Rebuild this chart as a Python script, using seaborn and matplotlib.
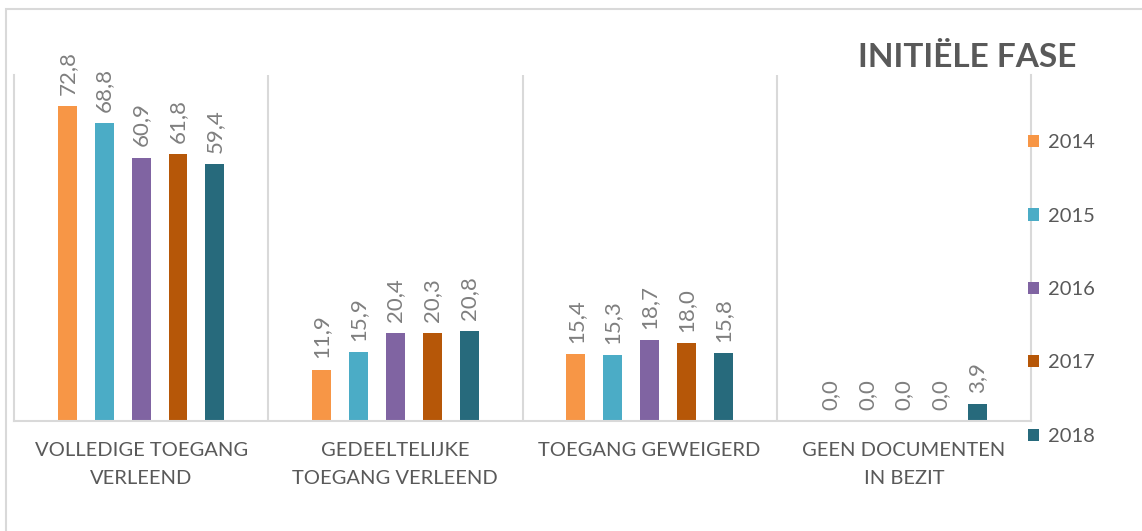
import pandas as pd
import matplotlib.pyplot as plt
import seaborn as sns
from matplotlib.patches import Rectangle

# Data
categories = ["VOLLEDIGE TOEGANG\nVERLEEND", "GEDEELTELIJKE\nTOEGANG VERLEEND",
              "TOEGANG GEWEIGERD", "GEEN DOCUMENTEN\nIN BEZIT"]
years = ["2014", "2015", "2016", "2017", "2018"]
values_2014 = [72.8, 11.9, 15.4, 0.0]
values_2015 = [68.8, 15.9, 15.3, 0.0]
values_2016 = [60.9, 20.4, 18.7, 0.0]
values_2017 = [61.8, 20.3, 18.0, 0.0]
values_2018 = [59.4, 20.8, 15.8, 3.9]
colors = ["#F79646", "#4BACC6", "#8064A2", "#B65708", "#276A7C"]

series = [values_2014, values_2015, values_2016, values_2017, values_2018]
rows = []
for year, vals in zip(years, series):
    for cat, v in zip(categories, vals):
        rows.append({"category": cat, "year": year, "value": v})
df = pd.DataFrame(rows)

sns.set_theme(style="white")
plt.rcParams['font.family'] = ['Lato', 'DejaVu Sans']

W, H = 1142, 531
fig = plt.figure(figsize=(W / 100, H / 100), dpi=100)
ax = fig.add_axes([14 / W, 1 - 421 / H, (1031 - 14) / W, (421 - 75) / H])

sns.barplot(data=df, x="category", y="value", hue="year", palette=colors,
            width=0.725, gap=0.486, linewidth=0, saturation=1, ax=ax)

# Value labels with comma decimals
for c in ax.containers:
    ax.bar_label(c, labels=[f"{v:.1f}".replace(".", ",") for v in c.datavalues],
                 rotation=90, padding=8, color="#7f7f7f", fontsize=16)

ax.set_ylim(0, 80)
ax.set_xlim(-0.5, 3.5)
ax.set_yticks([])
ax.set_xlabel("")
ax.set_ylabel("")

# Category separators
for x in [0.5, 1.5, 2.5]:
    ax.axvline(x, color="#d9d9d9", lw=1.5, zorder=0)
ax.spines["top"].set_visible(False)
for s in ["left", "right", "bottom"]:
    ax.spines[s].set_color("#d9d9d9")
    ax.spines[s].set_linewidth(1.5)

ax.tick_params(axis="x", length=0, pad=15, labelsize=14.5, labelcolor="#595959")
for lbl in ax.get_xticklabels():
    lbl.set_linespacing(1.8)

# Legend on the right
handles, labels = ax.get_legend_handles_labels()
ax.get_legend().remove()
fig.legend(handles, labels, loc="center left",
           bbox_to_anchor=(1028 / W, 1 - 289.5 / H), frameon=False,
           fontsize=14.5, labelcolor="#595959", handlelength=0.55,
           handleheight=0.55, handletextpad=0.45, labelspacing=2.8,
           borderpad=0, borderaxespad=0)

# Title
fig.text(967 / W, 1 - 67 / H, "INITIËLE FASE", ha="center", va="baseline",
         fontsize=24, fontweight="bold", color="#595959")

# Outer chart frame
fig.add_artist(Rectangle((6 / W, -0.1), 1.2, (1 - 9 / H) + 0.1,
                         transform=fig.transFigure, fill=False,
                         ec="#d9d9d9", lw=1.5))

fig.savefig("out.png", dpi=100)
